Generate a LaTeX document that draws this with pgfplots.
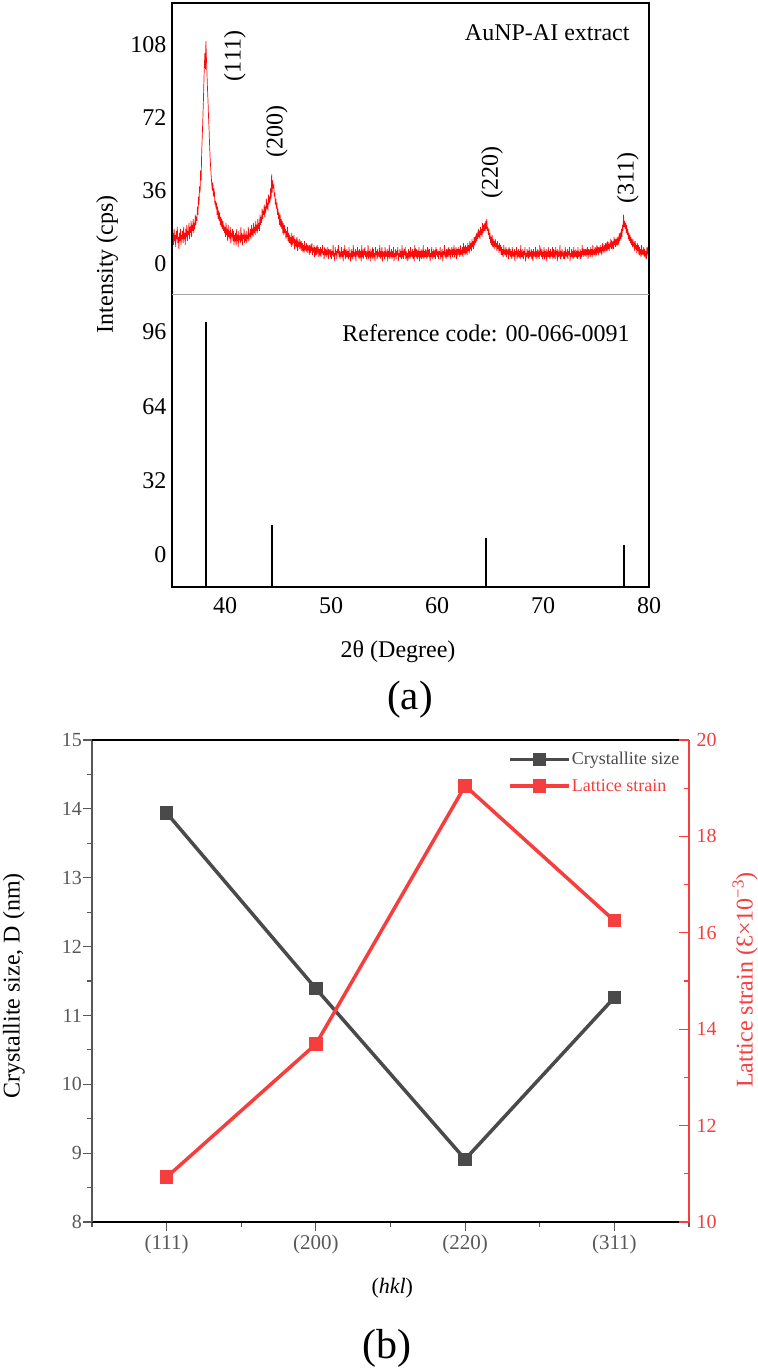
\documentclass[border=0pt]{standalone}
\usepackage{fontspec}
\setmainfont{Liberation Serif}
\usepackage{pgfplots}
\usepackage{pgfplotstable}
\pgfplotsset{compat=1.18}

\definecolor{trace}{RGB}{255,10,10}
\definecolor{sizegray}{RGB}{74,74,74}
\definecolor{axgray}{RGB}{88,88,88}
\definecolor{strainred}{RGB}{246,62,62}
\definecolor{divider}{RGB}{165,165,165}

\newcommand\fsA{\fontsize{24bp}{29bp}\selectfont}
\newcommand\fsB{\fontsize{20bp}{24bp}\selectfont}
\newcommand\fsC{\fontsize{24bp}{29bp}\selectfont}
\newcommand\fsH{\fontsize{22bp}{26bp}\selectfont}
\newcommand\fsD{\fontsize{18bp}{22bp}\selectfont}
\newcommand\fsP{\fontsize{41bp}{48bp}\selectfont}

% measured XRD pattern, 2theta (deg) vs intensity (cps)
\pgfplotstableread[row sep=\\]{
tt cps\\
35.00 20\\35.05 12\\35.10 15\\35.15 9\\35.20 17\\35.25 11\\35.30 14\\35.35 8\\35.40 16\\35.45 12\\
35.50 18\\35.55 10\\35.60 13\\35.65 7\\35.70 15\\35.75 11\\35.80 17\\35.85 9\\35.90 14\\35.95 12\\
36.00 16\\36.05 10\\36.10 18\\36.15 12\\36.20 15\\36.25 9\\36.30 17\\36.35 13\\36.40 19\\36.45 11\\
36.50 16\\36.55 14\\36.60 20\\36.65 12\\36.70 18\\36.75 15\\36.80 21\\36.85 13\\36.90 19\\36.95 16\\
37.00 22\\37.05 15\\37.10 20\\37.15 17\\37.20 24\\37.25 19\\37.30 23\\37.35 21\\37.40 28\\37.45 24\\
37.50 33\\37.55 29\\37.60 38\\37.65 35\\37.70 46\\37.75 41\\37.80 55\\37.85 62\\37.90 70\\37.95 78\\
38.00 88\\38.05 97\\38.10 104\\38.15 96\\38.20 110\\38.25 101\\38.30 94\\38.35 86\\38.40 80\\38.45 72\\
38.50 66\\38.55 58\\38.60 52\\38.65 47\\38.70 43\\38.75 39\\38.80 36\\38.85 40\\38.90 33\\38.95 37\\
39.00 35\\39.05 29\\39.10 31\\39.15 27\\39.20 30\\39.25 24\\39.30 28\\39.35 22\\39.40 26\\39.45 21\\
39.50 25\\39.55 19\\39.60 23\\39.65 18\\39.70 22\\39.75 17\\39.80 21\\39.85 16\\39.90 19\\39.95 15\\
40.00 18\\40.05 13\\40.10 20\\40.15 14\\40.20 17\\40.25 11\\40.30 19\\40.35 13\\40.40 16\\40.45 12\\
40.50 18\\40.55 10\\40.60 15\\40.65 13\\40.70 17\\40.75 11\\40.80 16\\40.85 9\\40.90 14\\40.95 12\\
41.00 15\\41.05 9\\41.10 17\\41.15 11\\41.20 14\\41.25 8\\41.30 16\\41.35 12\\41.40 13\\41.45 10\\
41.50 18\\41.55 11\\41.60 15\\41.65 9\\41.70 14\\41.75 12\\41.80 17\\41.85 10\\41.90 13\\41.95 11\\
42.00 16\\42.05 10\\42.10 14\\42.15 12\\42.20 18\\42.25 11\\42.30 15\\42.35 13\\42.40 17\\42.45 12\\
42.50 19\\42.55 14\\42.60 16\\42.65 13\\42.70 20\\42.75 15\\42.80 18\\42.85 14\\42.90 21\\42.95 16\\
43.00 19\\43.05 15\\43.10 22\\43.15 17\\43.20 20\\43.25 16\\43.30 24\\43.35 19\\43.40 23\\43.45 20\\
43.50 27\\43.55 22\\43.60 26\\43.65 24\\43.70 29\\43.75 23\\43.80 28\\43.85 25\\43.90 32\\43.95 27\\
44.00 30\\44.05 26\\44.10 34\\44.15 29\\44.20 33\\44.25 30\\44.30 37\\44.35 32\\44.40 44\\44.45 35\\
44.50 41\\44.55 37\\44.60 39\\44.65 33\\44.70 35\\44.75 29\\44.80 32\\44.85 27\\44.90 30\\44.95 24\\
45.00 27\\45.05 22\\45.10 25\\45.15 19\\45.20 24\\45.25 18\\45.30 22\\45.35 17\\45.40 21\\45.45 15\\
45.50 20\\45.55 14\\45.60 19\\45.65 15\\45.70 17\\45.75 12\\45.80 16\\45.85 13\\45.90 18\\45.95 11\\
46.00 15\\46.05 10\\46.10 14\\46.15 11\\46.20 13\\46.25 8\\46.30 15\\46.35 9\\46.40 12\\46.45 10\\
46.50 14\\46.55 7\\46.60 12\\46.65 9\\46.70 11\\46.75 8\\46.80 13\\46.85 6\\46.90 10\\46.95 9\\
47.00 12\\47.05 7\\47.10 10\\47.15 8\\47.20 11\\47.25 6\\47.30 10\\47.35 7\\47.40 9\\47.45 5\\
47.50 11\\47.55 7\\47.60 8\\47.65 6\\47.70 10\\47.75 5\\47.80 9\\47.85 7\\47.90 8\\47.95 4\\
48.00 9\\48.05 5\\48.10 8\\48.15 6\\48.20 10\\48.25 4\\48.30 7\\48.35 6\\48.40 9\\48.45 3\\
48.50 8\\48.55 5\\48.60 7\\48.65 4\\48.70 9\\48.75 6\\48.80 8\\48.85 3\\48.90 7\\48.95 5\\
49.00 8\\49.05 3\\49.10 7\\49.15 5\\49.20 9\\49.25 4\\49.30 6\\49.35 2\\49.40 8\\49.45 5\\
49.50 7\\49.55 3\\49.60 6\\49.65 4\\49.70 8\\49.75 2\\49.80 7\\49.85 5\\49.90 6\\49.95 3\\
50.00 7\\50.05 2\\50.10 6\\50.15 4\\50.20 9\\50.25 3\\50.30 5\\50.35 1\\50.40 8\\50.45 4\\
50.50 6\\50.55 2\\50.60 7\\50.65 5\\50.70 9\\50.75 3\\50.80 6\\50.85 2\\50.90 5\\50.95 4\\
51.00 8\\51.05 3\\51.10 6\\51.15 1\\51.20 7\\51.25 4\\51.30 9\\51.35 2\\51.40 5\\51.45 3\\
51.50 7\\51.55 4\\51.60 6\\51.65 2\\51.70 8\\51.75 3\\51.80 5\\51.85 1\\51.90 7\\51.95 4\\
52.00 6\\52.05 2\\52.10 9\\52.15 4\\52.20 5\\52.25 3\\52.30 7\\52.35 1\\52.40 6\\52.45 4\\
52.50 8\\52.55 3\\52.60 5\\52.65 2\\52.70 7\\52.75 4\\52.80 6\\52.85 1\\52.90 9\\52.95 3\\
53.00 5\\53.05 2\\53.10 7\\53.15 4\\53.20 8\\53.25 3\\53.30 6\\53.35 2\\53.40 5\\53.45 4\\
53.50 9\\53.55 2\\53.60 6\\53.65 3\\53.70 7\\53.75 1\\53.80 5\\53.85 4\\53.90 8\\53.95 2\\
54.00 7\\54.05 3\\54.10 5\\54.15 1\\54.20 8\\54.25 4\\54.30 6\\54.35 2\\54.40 7\\54.45 3\\
54.50 5\\54.55 4\\54.60 9\\54.65 2\\54.70 6\\54.75 3\\54.80 8\\54.85 1\\54.90 5\\54.95 4\\
55.00 6\\55.05 2\\55.10 8\\55.15 3\\55.20 5\\55.25 4\\55.30 7\\55.35 1\\55.40 6\\55.45 3\\
55.50 9\\55.55 2\\55.60 5\\55.65 4\\55.70 7\\55.75 2\\55.80 6\\55.85 3\\55.90 8\\55.95 1\\
56.00 5\\56.05 3\\56.10 7\\56.15 2\\56.20 6\\56.25 4\\56.30 8\\56.35 1\\56.40 5\\56.45 3\\
56.50 7\\56.55 4\\56.60 6\\56.65 2\\56.70 9\\56.75 3\\56.80 5\\56.85 2\\56.90 7\\56.95 4\\
57.00 8\\57.05 2\\57.10 6\\57.15 3\\57.20 5\\57.25 1\\57.30 7\\57.35 4\\57.40 6\\57.45 2\\
57.50 8\\57.55 3\\57.60 5\\57.65 4\\57.70 7\\57.75 2\\57.80 6\\57.85 1\\57.90 9\\57.95 3\\
58.00 6\\58.05 4\\58.10 7\\58.15 2\\58.20 5\\58.25 3\\58.30 8\\58.35 1\\58.40 6\\58.45 4\\
58.50 7\\58.55 2\\58.60 5\\58.65 3\\58.70 9\\58.75 2\\58.80 6\\58.85 4\\58.90 7\\58.95 3\\
59.00 5\\59.05 2\\59.10 8\\59.15 3\\59.20 6\\59.25 4\\59.30 7\\59.35 1\\59.40 5\\59.45 3\\
59.50 8\\59.55 2\\59.60 6\\59.65 4\\59.70 7\\59.75 3\\59.80 5\\59.85 2\\59.90 8\\59.95 4\\
60.00 7\\60.05 3\\60.10 5\\60.15 2\\60.20 6\\60.25 4\\60.30 8\\60.35 2\\60.40 5\\60.45 3\\
60.50 7\\60.55 1\\60.60 6\\60.65 4\\60.70 9\\60.75 3\\60.80 5\\60.85 2\\60.90 7\\60.95 4\\
61.00 6\\61.05 3\\61.10 8\\61.15 4\\61.20 7\\61.25 2\\61.30 6\\61.35 5\\61.40 8\\61.45 3\\
61.50 7\\61.55 4\\61.60 9\\61.65 3\\61.70 6\\61.75 4\\61.80 8\\61.85 2\\61.90 7\\61.95 5\\
62.00 8\\62.05 4\\62.10 7\\62.15 3\\62.20 9\\62.25 5\\62.30 6\\62.35 4\\62.40 8\\62.45 3\\
62.50 10\\62.55 5\\62.60 7\\62.65 4\\62.70 9\\62.75 6\\62.80 8\\62.85 4\\62.90 10\\62.95 6\\
63.00 9\\63.05 5\\63.10 11\\63.15 7\\63.20 10\\63.25 6\\63.30 12\\63.35 8\\63.40 11\\63.45 7\\
63.50 13\\63.55 9\\63.60 12\\63.65 10\\63.70 15\\63.75 11\\63.80 14\\63.85 12\\63.90 17\\63.95 13\\
64.00 16\\64.05 12\\64.10 18\\64.15 14\\64.20 17\\64.25 13\\64.30 20\\64.35 15\\64.40 19\\64.45 16\\
64.50 20\\64.55 16\\64.60 21\\64.65 17\\64.70 22\\64.75 16\\64.80 18\\64.85 14\\64.90 17\\64.95 12\\
65.00 15\\65.05 10\\65.10 13\\65.15 9\\65.20 14\\65.25 8\\65.30 12\\65.35 9\\65.40 11\\65.45 7\\
65.50 12\\65.55 8\\65.60 10\\65.65 6\\65.70 11\\65.75 7\\65.80 9\\65.85 5\\65.90 10\\65.95 6\\
66.00 9\\66.05 4\\66.10 8\\66.15 5\\66.20 7\\66.25 3\\66.30 9\\66.35 5\\66.40 6\\66.45 4\\
66.50 8\\66.55 3\\66.60 7\\66.65 5\\66.70 6\\66.75 2\\66.80 8\\66.85 4\\66.90 7\\66.95 3\\
67.00 6\\67.05 2\\67.10 8\\67.15 4\\67.20 5\\67.25 3\\67.30 7\\67.35 1\\67.40 6\\67.45 4\\
67.50 8\\67.55 2\\67.60 5\\67.65 3\\67.70 7\\67.75 4\\67.80 6\\67.85 2\\67.90 9\\67.95 3\\
68.00 5\\68.05 3\\68.10 7\\68.15 2\\68.20 6\\68.25 4\\68.30 8\\68.35 1\\68.40 5\\68.45 3\\
68.50 7\\68.55 4\\68.60 6\\68.65 2\\68.70 8\\68.75 3\\68.80 5\\68.85 4\\68.90 7\\68.95 2\\
69.00 6\\69.05 1\\69.10 7\\69.15 4\\69.20 5\\69.25 3\\69.30 8\\69.35 2\\69.40 6\\69.45 4\\
69.50 7\\69.55 3\\69.60 5\\69.65 2\\69.70 9\\69.75 4\\69.80 6\\69.85 3\\69.90 7\\69.95 2\\
70.00 5\\70.05 4\\70.10 8\\70.15 2\\70.20 6\\70.25 3\\70.30 7\\70.35 1\\70.40 5\\70.45 4\\
70.50 8\\70.55 3\\70.60 6\\70.65 2\\70.70 7\\70.75 4\\70.80 5\\70.85 3\\70.90 8\\70.95 2\\
71.00 7\\71.05 3\\71.10 5\\71.15 2\\71.20 8\\71.25 4\\71.30 6\\71.35 1\\71.40 7\\71.45 3\\
71.50 5\\71.55 4\\71.60 9\\71.65 2\\71.70 6\\71.75 3\\71.80 7\\71.85 4\\71.90 5\\71.95 2\\
72.00 6\\72.05 2\\72.10 8\\72.15 4\\72.20 5\\72.25 3\\72.30 7\\72.35 2\\72.40 6\\72.45 4\\
72.50 8\\72.55 1\\72.60 5\\72.65 3\\72.70 7\\72.75 4\\72.80 6\\72.85 2\\72.90 8\\72.95 3\\
73.00 5\\73.05 3\\73.10 7\\73.15 4\\73.20 6\\73.25 2\\73.30 8\\73.35 3\\73.40 5\\73.45 4\\
73.50 7\\73.55 2\\73.60 6\\73.65 3\\73.70 9\\73.75 4\\73.80 6\\73.85 3\\73.90 7\\73.95 4\\
74.00 7\\74.05 3\\74.10 6\\74.15 4\\74.20 8\\74.25 2\\74.30 7\\74.35 5\\74.40 6\\74.45 3\\
74.50 8\\74.55 4\\74.60 7\\74.65 3\\74.70 9\\74.75 5\\74.80 6\\74.85 4\\74.90 8\\74.95 5\\
75.00 7\\75.05 4\\75.10 9\\75.15 5\\75.20 8\\75.25 4\\75.30 7\\75.35 6\\75.40 9\\75.45 5\\
75.50 8\\75.55 4\\75.60 10\\75.65 6\\75.70 8\\75.75 5\\75.80 9\\75.85 6\\75.90 10\\75.95 7\\
76.00 9\\76.05 6\\76.10 11\\76.15 7\\76.20 9\\76.25 6\\76.30 10\\76.35 8\\76.40 12\\76.45 7\\
76.50 10\\76.55 8\\76.60 11\\76.65 7\\76.70 13\\76.75 9\\76.80 11\\76.85 8\\76.90 12\\76.95 9\\
77.00 13\\77.05 10\\77.10 12\\77.15 9\\77.20 15\\77.25 11\\77.30 14\\77.35 12\\77.40 17\\77.45 13\\
77.50 19\\77.55 16\\77.60 24\\77.65 18\\77.70 21\\77.75 17\\77.80 20\\77.85 15\\77.90 19\\77.95 14\\
78.00 17\\78.05 12\\78.10 15\\78.15 11\\78.20 14\\78.25 10\\78.30 13\\78.35 9\\78.40 12\\78.45 8\\
78.50 11\\78.55 9\\78.60 10\\78.65 6\\78.70 11\\78.75 7\\78.80 9\\78.85 5\\78.90 10\\78.95 6\\
79.00 9\\79.05 4\\79.10 8\\79.15 5\\79.20 7\\79.25 3\\79.30 9\\79.35 4\\79.40 6\\79.45 5\\
79.50 8\\79.55 3\\79.60 7\\79.65 4\\79.70 6\\79.75 2\\79.80 8\\79.85 5\\79.90 7\\79.95 4\\
80.00 6\\
}\xrddata

\pgfplotsset{
  xrd/.style={scale only axis, width=477bp, height=292bp, xmin=35, xmax=80,
    anchor=south west, axis line style={draw=none},
    major tick length=0pt, minor tick length=0pt,
    tick label style={font=\fsA},
    /pgf/number format/assume math mode=true},
  hklbase/.style={scale only axis, width=597bp, height=482bp,
    at={(92bp,148bp)}, anchor=south west, xmin=-0.5, xmax=3.5,
    /pgf/number format/assume math mode=true},
}

\begin{document}
\begin{tikzpicture}
\useasboundingbox (0,0) rectangle (758bp,1370bp);

% ---------- (a) measured pattern ----------
\begin{axis}[xrd, at={(172bp,1075bp)},
  ymin=-15.7, ymax=128.8, ytick={0,36,72,108}, xtick=\empty,
  yticklabel style={xshift=-2bp},
  ylabel={Intensity (cps)},
  every axis y label/.style={at={(rel axis cs:-0.136,0.106)}, rotate=90, anchor=center, font=\fsA},
  after end axis/.code={
    \draw[black, line width=1.8bp] (rel axis cs:0,0) -- (rel axis cs:0,1) -- (rel axis cs:1,1) -- (rel axis cs:1,0);
    \draw[divider, line width=1bp] (rel axis cs:0,0) -- (rel axis cs:1,0);}]
\addplot[trace, line width=0.7bp] table[x=tt, y=cps] {\xrddata};
\node[font=\fsA, anchor=east] at (axis cs:78.5,114) {AuNP-AI extract};
\node[font=\fsA, rotate=90] at (axis cs:40.94,102.6) {(111)};
\node[font=\fsA, rotate=90] at (axis cs:44.9,65) {(200)};
\node[font=\fsA, rotate=90] at (axis cs:65.2,44.7) {(220)};
\node[font=\fsA, rotate=90] at (axis cs:78.0,42.2) {(311)};
\end{axis}

% ---------- (a) reference pattern ----------
\begin{axis}[xrd, at={(172bp,783bp)},
  ymin=-13.8, ymax=112, ytick={0,32,64,96}, xtick={40,50,...,80},
  yticklabel style={xshift=-2bp}, xticklabel style={yshift=-7bp},
  xlabel={2θ (Degree)},
  every axis x label/.style={at={(rel axis cs:0.474,0)}, anchor=center, yshift=-65bp, font=\fsA},
  after end axis/.code={
    \draw[black, line width=1.8bp] (rel axis cs:0,1) -- (rel axis cs:0,0) -- (rel axis cs:1,0) -- (rel axis cs:1,1);}]
\addplot[black, line width=2bp] coordinates {(38.2,-13.8) (38.2,100.3)};
\addplot[black, line width=2bp] coordinates {(44.4,-13.8) (44.4,12.9)};
\addplot[black, line width=2bp] coordinates {(64.6,-13.8) (64.6,7.3)};
\addplot[black, line width=2bp] coordinates {(77.6,-13.8) (77.6,4.3)};
\node[font=\fsA, anchor=east] at (axis cs:78.5,95.6) {Reference code: 00-066-0091};
\end{axis}

\node[font=\fsP] at (410bp,670bp) {(a)};

% ---------- (b) crystallite size ----------
\begin{axis}[hklbase,
  ymin=8, ymax=15, ytick={8,...,15}, minor y tick num=1,
  xtick={0,1,2,3}, xticklabels={(111),(200),(220),(311)},
  minor xtick={-0.5,0.5,1.5,2.5,3.5},
  axis x line*=bottom, axis y line*=left,
  x axis line style={black, line width=1.4bp},
  y axis line style={axgray, line width=1.6bp},
  tick align=outside, major tick length=9bp, minor tick length=5bp,
  every tick/.style={axgray, line width=1.2bp},
  tick label style={axgray},
  xticklabel style={font=\fontsize{21bp}{25bp}\selectfont},
  yticklabel style={font=\fsB, inner sep=1bp},
  xlabel={(\textit{hkl})}, ylabel={Crystallite size, D (nm)},
  every axis x label/.style={at={(rel axis cs:0.503,0)}, anchor=center, yshift=-66bp, font=\fsH},
  every axis y label/.style={at={(rel axis cs:-0.131,0.49)}, rotate=90, anchor=center, font=\fsC},
  after end axis/.code={\draw[black, line width=1.4bp] (rel axis cs:0,1) -- (rel axis cs:1,1);}]
\addplot[sizegray, line width=3.5bp, mark=square*, mark size=5bp, mark options={solid}]
  coordinates {(0,13.94) (1,11.39) (2,8.91) (3,11.26)};
\end{axis}

% ---------- (b) lattice strain ----------
\begin{axis}[hklbase,
  ymin=10, ymax=20, ytick={10,12,...,20}, minor y tick num=1,
  axis y line*=right, axis x line=none,
  y axis line style={strainred, line width=1.2bp},
  tick align=inside, major tick length=10bp, minor tick length=5bp,
  every tick/.style={strainred, line width=1.2bp},
  yticklabel style={font=\fsB, strainred, xshift=4bp},
  ylabel={Lattice strain (Ɛ×10\textsuperscript{−3})},
  every axis y label/.style={at={(rel axis cs:1.094,0.502)}, rotate=90, anchor=center, font=\fsC, strainred},
  legend style={at={(rel axis cs:0.697,0.977)}, anchor=north west, draw=none, fill=none,
    font=\fsD, inner sep=0pt, row sep=11bp, nodes={inner sep=1bp}},
  legend cell align=left,
  legend image code/.code={\draw[#1, mark repeat=2, mark phase=2] plot coordinates {(0bp,0bp) (29.5bp,0bp) (59bp,0bp)};}]
\addlegendimage{sizegray, line width=3bp, mark=square*, mark size=5bp, mark options={solid}}
\addlegendentry{\textcolor{sizegray}{Crystallite size}}
\addplot[strainred, line width=3.5bp, mark=square*, mark size=5bp, mark options={solid}]
  coordinates {(0,10.93) (1,13.69) (2,19.05) (3,16.25)};
\addlegendentry{\textcolor{strainred}{Lattice strain}}
\end{axis}

\node[font=\fontsize{42bp}{50bp}\selectfont] at (387bp,22bp) {(b)};
\end{tikzpicture}
\end{document}
